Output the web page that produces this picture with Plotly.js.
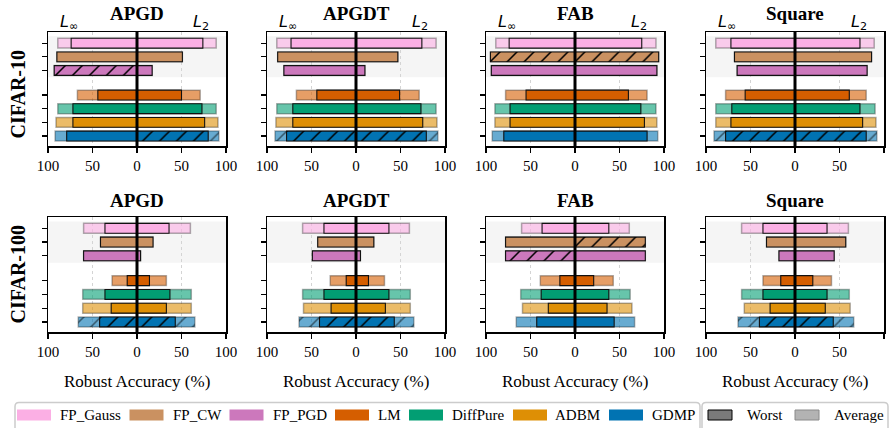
<!DOCTYPE html>
<html><head><meta charset="utf-8">
<script src="https://cdn.plot.ly/plotly-3.0.1.min.js"></script>
<style>html,body{margin:0;padding:0;background:#fff}#chart{width:895px;height:428px}</style>
</head><body><div id="chart"></div>
<script>
// ---------- data ----------
const methods = ['FP_Gauss','FP_CW','FP_PGD','LM','DiffPure','ADBM','GDMP'];
const colors  = ['#fbafe4','#ca9161','#cc78bc','#d55e00','#029e73','#de8f05','#0173b2'];
const attacks = ['APGD','APGDT','FAB','Square'];
const datasets = ['CIFAR-10','CIFAR-100'];
const tickVals = [-100,-50,0,50,100];
const tickText = ['100','50','0','50','100'];
const xTitle = 'Robust Accuracy (%)';
const statLabels = ['Worst','Average'];

// CIFAR-10
const c10_apgd_linf_worst = [74, 90, 93, 44, 72, 72, 79];
const c10_apgd_linf_avg   = [89, 90, 93, 67, 89, 91, 92];
const c10_apgd_l2_worst   = [74, 51, 17, 50, 73, 76, 80];
const c10_apgd_l2_avg     = [89, 51, 17, 71, 89, 91, 92];
const c10_apgd_hatch_linf = [0,0,1,0,0,0,0];
const c10_apgd_hatch_l2   = [0,0,0,0,0,0,1];

const c10_apgdt_linf_worst = [73, 88, 81, 44, 71, 71, 78];
const c10_apgdt_linf_avg   = [89, 88, 81, 67, 89, 90, 91];
const c10_apgdt_l2_worst   = [74, 47, 10, 49, 73, 75, 79];
const c10_apgdt_l2_avg     = [90, 47, 10, 71, 90, 91, 92];
const c10_apgdt_hatch_linf = [0,0,0,0,0,0,1];
const c10_apgdt_hatch_l2   = [0,0,0,0,0,0,1];

const c10_fab_linf_worst = [74, 95, 94, 55, 73, 73, 80];
const c10_fab_linf_avg   = [89, 95, 94, 78, 90, 90, 93];
const c10_fab_l2_worst   = [75, 94, 92, 60, 74, 78, 81];
const c10_fab_l2_avg     = [91, 94, 92, 81, 91, 92, 93];
const c10_fab_hatch_linf = [0,1,0,0,0,0,0];
const c10_fab_hatch_l2   = [0,1,0,0,0,0,0];

const c10_square_linf_worst = [72, 68, 65, 56, 71, 72, 78];
const c10_square_linf_avg   = [89, 68, 65, 78, 89, 89, 91];
const c10_square_l2_worst   = [73, 86, 81, 61, 73, 76, 80];
const c10_square_l2_avg     = [89, 86, 81, 80, 90, 91, 92];
const c10_square_hatch_linf = [0,0,0,0,0,0,1];
const c10_square_hatch_l2   = [0,0,0,0,0,0,1];

// CIFAR-100
const c100_apgd_linf_worst = [36, 41, 60, 11, 36, 29, 42];
const c100_apgd_linf_avg   = [60, 41, 60, 28, 61, 61, 66];
const c100_apgd_l2_worst   = [36, 18, 4, 14, 37, 33, 43];
const c100_apgd_l2_avg     = [60, 18, 4, 33, 61, 61, 65];
const c100_apgd_hatch_linf = [0,0,0,0,0,0,1];
const c100_apgd_hatch_l2   = [0,0,0,0,0,0,1];

const c100_apgdt_linf_worst = [36, 43, 49, 11, 36, 28, 41];
const c100_apgdt_linf_avg   = [60, 43, 49, 29, 60, 59, 64];
const c100_apgdt_l2_worst   = [37, 20, 5, 14, 37, 33, 43];
const c100_apgdt_l2_avg     = [60, 20, 5, 32, 61, 61, 65];
const c100_apgdt_hatch_linf = [0,0,0,0,0,0,1];
const c100_apgdt_hatch_l2   = [0,0,0,0,0,0,1];

const c100_fab_linf_worst = [37, 78, 78, 17, 38, 30, 43];
const c100_fab_linf_avg   = [60, 78, 78, 39, 61, 59, 66];
const c100_fab_l2_worst   = [38, 79, 79, 21, 38, 36, 44];
const c100_fab_l2_avg     = [61, 79, 79, 43, 62, 64, 67];
const c100_fab_hatch_linf = [0,0,1,0,0,0,0];
const c100_fab_hatch_l2   = [0,1,0,0,0,0,0];

const c100_square_linf_worst = [36, 32, 18, 16, 36, 28, 40];
const c100_square_linf_avg   = [60, 32, 18, 36, 60, 57, 64];
const c100_square_l2_worst   = [36, 57, 44, 20, 36, 34, 43];
const c100_square_l2_avg     = [60, 57, 44, 41, 61, 62, 66];
const c100_square_hatch_linf = [0,0,0,0,0,0,1];
const c100_square_hatch_l2   = [0,0,0,0,0,0,1];

// ---------- assemble ----------
const panels = [
  [c10_apgd_linf_worst,c10_apgd_linf_avg,c10_apgd_l2_worst,c10_apgd_l2_avg,c10_apgd_hatch_linf,c10_apgd_hatch_l2],
  [c10_apgdt_linf_worst,c10_apgdt_linf_avg,c10_apgdt_l2_worst,c10_apgdt_l2_avg,c10_apgdt_hatch_linf,c10_apgdt_hatch_l2],
  [c10_fab_linf_worst,c10_fab_linf_avg,c10_fab_l2_worst,c10_fab_l2_avg,c10_fab_hatch_linf,c10_fab_hatch_l2],
  [c10_square_linf_worst,c10_square_linf_avg,c10_square_l2_worst,c10_square_l2_avg,c10_square_hatch_linf,c10_square_hatch_l2],
  [c100_apgd_linf_worst,c100_apgd_linf_avg,c100_apgd_l2_worst,c100_apgd_l2_avg,c100_apgd_hatch_linf,c100_apgd_hatch_l2],
  [c100_apgdt_linf_worst,c100_apgdt_linf_avg,c100_apgdt_l2_worst,c100_apgdt_l2_avg,c100_apgdt_hatch_linf,c100_apgdt_hatch_l2],
  [c100_fab_linf_worst,c100_fab_linf_avg,c100_fab_l2_worst,c100_fab_l2_avg,c100_fab_hatch_linf,c100_fab_hatch_l2],
  [c100_square_linf_worst,c100_square_linf_avg,c100_square_l2_worst,c100_square_l2_avg,c100_square_hatch_linf,c100_square_hatch_l2]
];

const W = 895, H = 428;
const px = v => v / W, py = v => 1 - v / H;
const yPos = methods.map((m, i) => i < 3 ? 6.8 - i : 6 - i);
function rgba(hex, a) {
  const n = parseInt(hex.slice(1), 16);
  return `rgba(${(n>>16)&255},${(n>>8)&255},${n&255},${a})`;
}
const colLeft = [48, 267, 486, 706], colRight = [226, 445, 664, 884];
const rowTop = [32, 217], rowBot = [146, 332];
const serif = 'Liberation Serif';
const BAR_W = 0.72;

const traces = [];
const layout = {
  width: W, height: H, margin: {l:0, r:0, t:0, b:0},
  paper_bgcolor: '#fff', plot_bgcolor: '#fff',
  barmode: 'overlay', showlegend: false,
  shapes: [], annotations: [], font: {family: serif, color: '#000'}
};

const avgColors = colors.map(c => rgba(c, 0.6));
function hatchTrace(vals, hatch, sgn, xa, ya, col) {
  const idx = hatch.map((h, i) => h ? i : -1).filter(i => i >= 0);
  if (!idx.length) return null;
  return {
    type: 'bar', orientation: 'h', xaxis: xa, yaxis: ya,
    x: idx.map(i => sgn * vals[i]), y: idx.map(i => yPos[i]), width: BAR_W, hoverinfo: 'skip',
    marker: {color: col, line: {width: 0},
             pattern: {shape: '/', fillmode: 'replace', size: 12, solidity: 0.13}}
  };
}
panels.forEach((p, k) => {
  const row = Math.floor(k / 4), col = k % 4;
  const s = k === 0 ? '' : String(k + 1);
  const xa = 'x' + s, ya = 'y' + s;
  const [lw, la, rw, ra, hl, hr] = p;
  const sides = [[lw, la, hl, -1], [rw, ra, hr, 1]];
  sides.forEach(([worst, avg, hatch, sgn]) => {
    traces.push({
      type: 'bar', orientation: 'h', xaxis: xa, yaxis: ya,
      x: avg.map(v => sgn * v), y: yPos, width: BAR_W, hoverinfo: 'skip',
      marker: {color: avgColors, line: {color: 'rgba(0,0,0,0.3)', width: 1.5}}
    });
    const ha = hatchTrace(avg, hatch, sgn, xa, ya, 'rgba(0,0,0,0.5)');
    if (ha) traces.push(ha);
    traces.push({
      type: 'bar', orientation: 'h', xaxis: xa, yaxis: ya,
      x: worst.map(v => sgn * v), y: yPos, width: BAR_W, hoverinfo: 'skip',
      marker: {color: colors, line: {color: '#111', width: 1.1}}
    });
    const hw = hatchTrace(worst, hatch, sgn, xa, ya, '#000');
    if (hw) traces.push(hw);
  });
  layout['xaxis' + s] = {
    domain: [px(colLeft[col]), px(colRight[col])], anchor: ya,
    range: [-100, 100], tickvals: tickVals, ticktext: tickText,
    ticks: 'outside', ticklen: 5, tickwidth: 1.2, tickcolor: '#000',
    showline: true, mirror: true, linecolor: '#000', linewidth: 1.5,
    showgrid: true, gridcolor: '#d4d4d4', griddash: 'dot', gridwidth: 1,
    zeroline: false, fixedrange: true,
    tickfont: {family: serif, size: 15, color: '#000'}
  };
  layout['yaxis' + s] = {
    domain: [py(rowBot[row]), py(rowTop[row])], anchor: xa,
    range: [-0.73, 7.62], tickvals: yPos, showticklabels: false,
    ticks: 'outside', ticklen: 5, tickwidth: 1.2, tickcolor: '#000',
    showline: true, mirror: true, linecolor: '#000', linewidth: 1.5,
    showgrid: false, zeroline: false, fixedrange: true
  };
  // shaded FP group
  layout.shapes.push({type: 'rect', xref: xa + ' domain', yref: ya, x0: 0, x1: 1, y0: 4.3, y1: 7.3,
    fillcolor: '#f5f5f5', line: {width: 0}, layer: 'below'});
  // centre line
  layout.shapes.push({type: 'line', xref: xa, yref: ya + ' domain', x0: 0, x1: 0, y0: 0, y1: 1,
    line: {color: '#000', width: 3}, layer: 'above'});
  // titles
  const cx = px((colLeft[col] + colRight[col]) / 2);
  layout.annotations.push({text: '<b>' + attacks[col] + '</b>', xref: 'paper', yref: 'paper',
    x: cx, y: py(row === 0 ? 13 : 200), xanchor: 'center', yanchor: 'middle', showarrow: false,
    font: {family: serif, size: 19, color: '#000'}});
  if (row === 0) {
    layout.annotations.push({text: '<i>L</i><sub>∞</sub>', xref: 'paper', yref: 'paper',
      x: px(colLeft[col] + 10), y: py(23), xanchor: 'left', yanchor: 'middle', showarrow: false,
      font: {family: 'DejaVu Sans', size: 16, color: '#000'}});
    layout.annotations.push({text: '<i>L</i><sub>2</sub>', xref: 'paper', yref: 'paper',
      x: px(colRight[col] - 15), y: py(23), xanchor: 'right', yanchor: 'middle', showarrow: false,
      font: {family: 'DejaVu Sans', size: 16, color: '#000'}});
  } else {
    layout.annotations.push({text: xTitle, xref: 'paper', yref: 'paper',
      x: cx, y: py(381), xanchor: 'center', yanchor: 'middle', showarrow: false,
      font: {family: serif, size: 17, color: '#000'}});
  }
});

// row labels
datasets.forEach((d, r) => {
  layout.annotations.push({text: '<b>' + d + '</b>', xref: 'paper', yref: 'paper',
    x: px(17.5), y: py(r === 0 ? 94 : 274), textangle: -90, xanchor: 'center', yanchor: 'middle',
    showarrow: false, font: {family: serif, size: 20, color: '#000'}});
});

// legend boxes
function roundRect(x0, y0, x1, y1, r) {
  const X = v => px(v).toFixed(5), Y = v => py(v).toFixed(5);
  return `M ${X(x0 + r)} ${Y(y0)} L ${X(x1 - r)} ${Y(y0)} Q ${X(x1)} ${Y(y0)} ${X(x1)} ${Y(y0 + r)} ` +
         `L ${X(x1)} ${Y(y1)} L ${X(x0)} ${Y(y1)} L ${X(x0)} ${Y(y0 + r)} Q ${X(x0)} ${Y(y0)} ${X(x0 + r)} ${Y(y0)} Z`;
}
layout.shapes.push({type: 'path', xref: 'paper', yref: 'paper', path: roundRect(15, 402.5, 700, 440, 4),
  fillcolor: '#fff', line: {color: '#cccccc', width: 1.5}});
layout.shapes.push({type: 'path', xref: 'paper', yref: 'paper', path: roundRect(702, 402.5, 888, 440, 4),
  fillcolor: '#fff', line: {color: '#cccccc', width: 1.5}});

const swX = [17, 129.5, 229.5, 335, 409, 513, 609];
const txX = [58, 170.5, 270.5, 376, 450, 553, 650];
methods.forEach((m, i) => {
  layout.shapes.push({type: 'rect', xref: 'paper', yref: 'paper',
    x0: px(swX[i]), x1: px(swX[i] + 34), y0: py(420.5), y1: py(409.5),
    fillcolor: colors[i], line: {width: 0}});
  layout.annotations.push({text: m, xref: 'paper', yref: 'paper', x: px(txX[i]), y: py(415),
    xanchor: 'left', yanchor: 'middle', showarrow: false, font: {family: serif, size: 15, color: '#000'}});
});
const stSw = [[708, '#7a7a7a', '#000'], [795, '#b3b3b3', '#8a8a8a']];
const stTx = [745, 832];
statLabels.forEach((t, i) => {
  layout.shapes.push({type: 'rect', xref: 'paper', yref: 'paper',
    x0: px(stSw[i][0]), x1: px(stSw[i][0] + 24), y0: py(420), y1: py(410),
    fillcolor: stSw[i][1], line: {color: stSw[i][2], width: 1}});
  layout.annotations.push({text: t, xref: 'paper', yref: 'paper', x: px(stTx[i]), y: py(415),
    xanchor: 'left', yanchor: 'middle', showarrow: false, font: {family: serif, size: 15, color: '#000'}});
});

Plotly.newPlot('chart', traces, layout, {staticPlot: true, displayModeBar: false});
</script>
</body></html>
